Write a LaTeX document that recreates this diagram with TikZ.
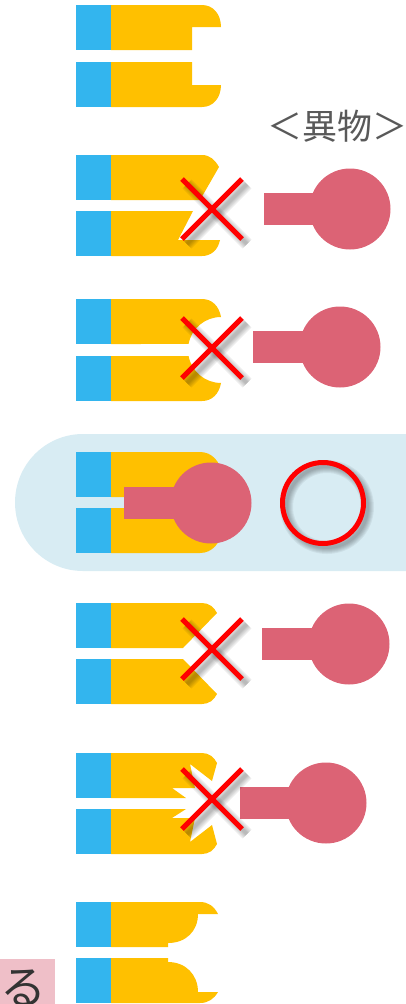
\documentclass[tikz,border=0pt]{standalone}
\usepackage{fontspec}
\newfontfamily\cjk{Noto Sans CJK JP}
\usetikzlibrary{positioning}
\definecolor{jawblue}{HTML}{33B5EE}
\definecolor{jawyellow}{HTML}{FFC000}
\definecolor{bodypink}{HTML}{DC6375}
\definecolor{bandblue}{HTML}{D8ECF3}
\definecolor{tagpink}{HTML}{EFBFC8}
\tikzset{jaw/.style={fill=jawyellow},
  tip/.style={fill=jawblue},
  foreign/.style={fill=bodypink},
  crossline/.style={draw=red,line width=5pt},
  soft/.style={draw=black,opacity=0.05}}
% rod and ball of the foreign object: rod left x, ball x, ball y
\newcommand{\foreignbody}[3]{
  \fill[foreign] (#1,#3-16) rectangle (#2,#3+16);
  \fill[foreign] (#2,#3) circle[radius=40.5pt];
}
% red cross with soft shadow, centred at x, y
\newcommand{\crossout}[2]{
  \foreach \w in {13,11,9,7,5,3}{
    \draw[soft,line width=\w pt] (#1-25,#2-25) -- (#1+35,#2+35);
    \draw[soft,line width=\w pt] (#1+35,#2-25) -- (#1-25,#2+35);
  }
  \draw[crossline] (#1-30,#2-30) -- (#1+30,#2+30);
  \draw[crossline] (#1+30,#2-30) -- (#1-30,#2+30);
}
\begin{document}
\begin{tikzpicture}[x=1pt,y=-1pt]
\useasboundingbox (0,0) rectangle (406,1004);
% band behind the matching pair
\fill[bandblue] (406,434) -- (83,434) .. controls (45,434) and (15,465) .. (15,502.5) .. controls (15,540) and (45,571) .. (83,571) -- (406,571) -- cycle;
% blue ends
\foreach \y in {5,62,155,211,299,356,452,508,603,659,753,809,902,958}{
  \fill[tip] (76,\y) rectangle (111,\y+45);
}
% pair 1
\fill[jaw] (111,5) -- (202,5) .. controls (213,5) and (221,14) .. (221,27) -- (192,27) -- (192,50) -- (111,50) -- cycle;
\fill[jaw] (111,62) -- (192,62) -- (192,85) -- (221,85) .. controls (221,98) and (213,107) .. (202,107) -- (111,107) -- cycle;
% pair 2
\fill[jaw] (111,155) -- (202,155) .. controls (210,155) and (215,160) .. (219,167) -- (200,200) -- (111,200) -- cycle;
\fill[jaw] (111,211) -- (193,211) -- (178,240) -- (220,240) .. controls (218,250) and (211,256) .. (202,256) -- (111,256) -- cycle;
\foreignbody{264}{350}{209}
\crossout{212}{209}
\node[font=\cjk\fontsize{35}{35}\selectfont,text=black!65,inner sep=0pt] (title) at (337,126) {＜異物＞};
% pair 3
\fill[jaw] (111,299) -- (202,299) .. controls (212,299) and (219,306) .. (221,317) arc[start angle=90,end angle=169.5,radius=33pt] -- (111,344) -- cycle;
\fill[jaw] (111,356) -- (188.6,356) arc[start angle=190.5,end angle=270,radius=33pt] .. controls (219,394) and (212,401) .. (202,401) -- (111,401) -- cycle;
\foreignbody{253}{340}{347}
\crossout{212}{348}
% pair 4, the one that fits
\fill[jaw] (111,452) -- (200,452) .. controls (212,452) and (221,462) .. (221,474) -- (221,497) -- (111,497) -- cycle;
\fill[jaw] (111,508) -- (221,508) -- (221,531) .. controls (221,543) and (212,553) .. (200,553) -- (111,553) -- cycle;
\foreignbody{124}{211}{503}
\foreach \w in {13,11,9,7,5,3}{
  \draw[soft,line width=\w pt] (327,507) circle[radius=40.5pt];
}
\draw[draw=red,line width=5pt] (323,503) circle[radius=40.5pt];
% pair 5
\fill[jaw] (111,603) -- (202,603) .. controls (209,603) and (214,607) .. (217,613) -- (183,648) -- (111,648) -- cycle;
\fill[jaw] (111,659) -- (183,659) -- (217,694) .. controls (214,700) and (209,704) .. (202,704) -- (111,704) -- cycle;
\foreignbody{262}{349}{644}
\crossout{212}{649}
% pair 6
\fill[jaw] (111,753) -- (202,753) .. controls (209,753) and (214,757) .. (217,763) -- (212,781) -- (190,764) -- (195,788) -- (172,788) -- (186,798) -- (111,798) -- cycle;
\fill[jaw] (111,809) -- (186,809) -- (172,818) -- (195,818) -- (190,842) -- (212,825) -- (217,844) .. controls (214,850) and (209,854) .. (202,854) -- (111,854) -- cycle;
\foreignbody{240}{326}{803}
\crossout{212}{799}
% pair 7
\fill[jaw] (111,902) -- (200,902) .. controls (208,902) and (214,906) .. (218,914) -- (198,914) .. controls (198,931) and (186,943) .. (168,943) -- (168,947) -- (111,947) -- cycle;
\fill[jaw] (111,958) -- (168,958) -- (168,962) .. controls (186,962) and (198,975) .. (198,992) -- (218,992) .. controls (214,999) and (208,1003) .. (200,1003) -- (111,1003) -- cycle;
% tag cut by the page edge
\begin{scope}
\clip (0,959) rectangle (55,1004);
\fill[tagpink] (0,959) rectangle (55,1004);
\node[font=\cjk\fontsize{46}{46}\selectfont,text=black!80,inner sep=0pt] (tag) at (23,988) {る};
\end{scope}
\end{tikzpicture}
\end{document}
